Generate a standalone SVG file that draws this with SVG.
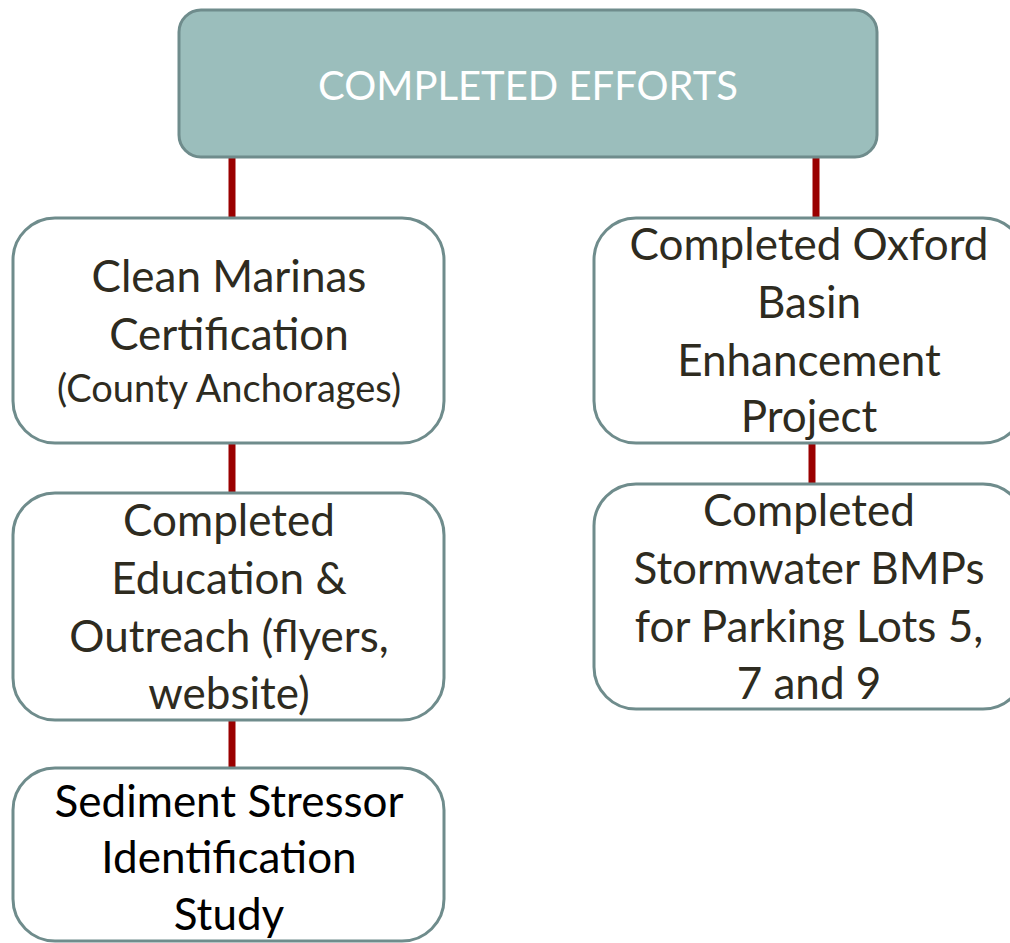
<svg xmlns="http://www.w3.org/2000/svg" width="1010" height="943" viewBox="0 0 1010 943">
  <style>
    .box { fill: #ffffff; stroke: #6f8c8c; stroke-width: 3; }
    .head { fill: #9bbebc; stroke: #6f8c8c; stroke-width: 3; }
    .link { stroke: #9a0000; stroke-width: 7; fill: none; }
    text { font-family: Lato, "Open Sans", sans-serif; text-anchor: middle; }
    .t { font-size: 44px; fill: #2e2b20; }
    .s { font-size: 38px; fill: #2e2b20; }
    .k { font-size: 44px; fill: #000000; }
    .w { font-size: 40px; fill: #ffffff; }
  </style>

  <!-- connectors -->
  <g id="connectors">
    <line class="link" x1="232" y1="157" x2="232" y2="218"/>
    <line class="link" x1="232" y1="443" x2="232" y2="493"/>
    <line class="link" x1="232" y1="720" x2="232" y2="768"/>
    <line class="link" x1="816" y1="157" x2="816" y2="218"/>
    <line class="link" x1="812" y1="443" x2="812" y2="484"/>
  </g>

  <g id="completed-efforts">
    <rect class="head" x="179" y="10" width="698" height="147" rx="22"/>
    <text class="w" x="528" y="100">COMPLETED EFFORTS</text>
  </g>

  <g id="clean-marinas">
    <rect class="box" x="13" y="218" width="431" height="225" rx="42"/>
    <text class="t" x="229" y="292">Clean Marinas</text>
    <text class="t" x="229" y="350">Certification</text>
    <text class="s" x="229" y="402">(County Anchorages)</text>
  </g>

  <g id="education-outreach">
    <rect class="box" x="13" y="493" width="431" height="227" rx="42"/>
    <text class="t" x="229" y="536">Completed</text>
    <text class="t" x="229" y="594">Education &amp;</text>
    <text class="t" x="229" y="652">Outreach (flyers,</text>
    <text class="t" x="229" y="709">website)</text>
  </g>

  <g id="sediment-stressor">
    <rect class="box" x="13" y="768" width="431" height="173" rx="42"/>
    <text class="k" x="229" y="817">Sediment Stressor</text>
    <text class="k" x="229" y="873">Identification</text>
    <text class="k" x="229" y="930">Study</text>
  </g>

  <g id="oxford-basin">
    <rect class="box" x="594" y="218" width="431" height="225" rx="42"/>
    <text class="t" x="809" y="260">Completed Oxford</text>
    <text class="t" x="809" y="318">Basin</text>
    <text class="t" x="809" y="376">Enhancement</text>
    <text class="t" x="809" y="432">Project</text>
  </g>

  <g id="stormwater-bmps">
    <rect class="box" x="594" y="484" width="431" height="225" rx="42"/>
    <text class="t" x="809" y="526">Completed</text>
    <text class="t" x="809" y="584">Stormwater BMPs</text>
    <text class="t" x="809" y="642">for Parking Lots 5,</text>
    <text class="t" x="809" y="699">7 and 9</text>
  </g>
</svg>
